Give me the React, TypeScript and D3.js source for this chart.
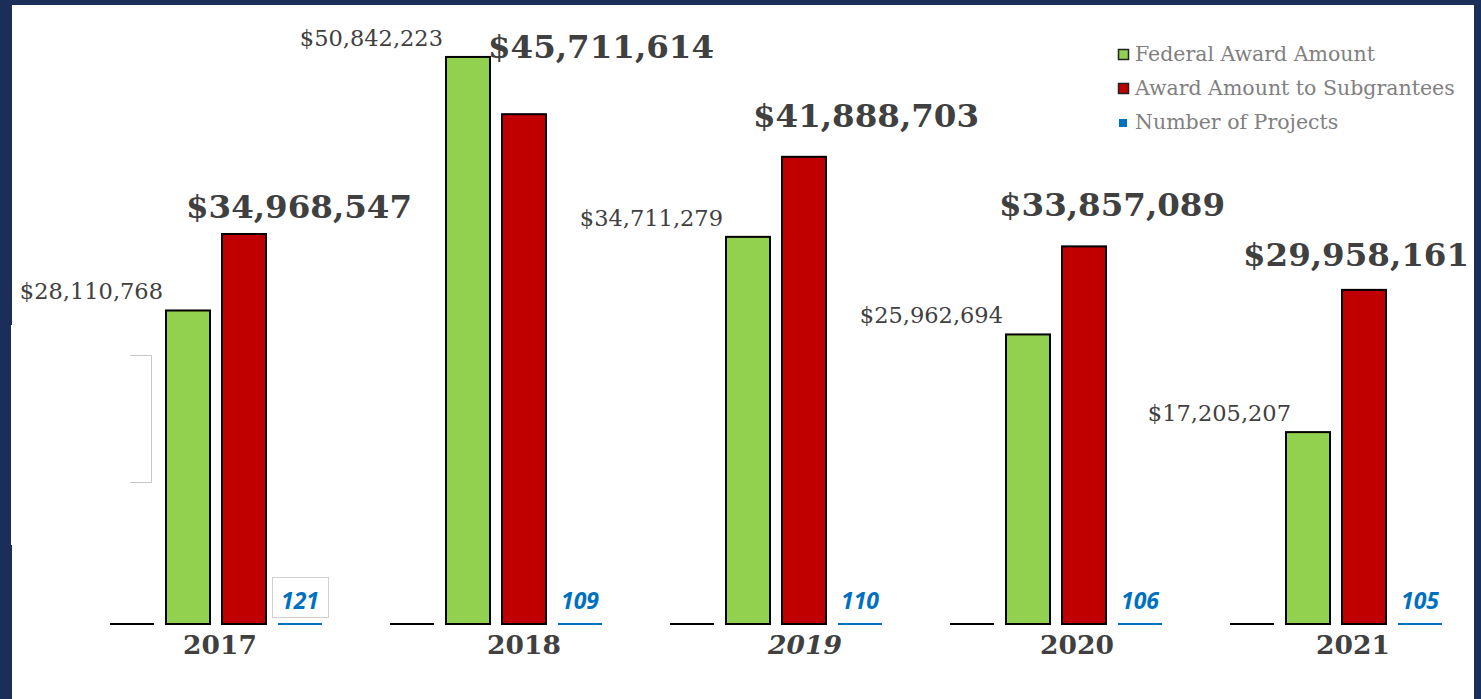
import React from "react";
import * as d3 from "d3";

const years = ["2017", "2018", "2019", "2020", "2021"];
const federal = [28110768, 50842223, 34711279, 25962694, 17205207];
const subgrantees = [34968547, 45711614, 41888703, 33857089, 29958161];
const projects = [121, 109, 110, 106, 105];
const legendLabels = ["Federal Award Amount", "Award Amount to Subgrantees", "Number of Projects"];

// annotation placement tweaks (layout, not data)
const fedDx = [0, 0, 0, 0, 8];
const subDx = [55, 77, 62, 28, -8];
const subDy = [-16, -56, -30, -30, -24];
const yearDx = [-2, 22, 23, 15, 11];

const W = 1481;
const H = 699;
const NAVY = "#1b2e5a";
const GREEN = "#92D050";
const RED = "#C00000";
const BLUE = "#0070C0";
const SERIF = "'DejaVu Serif', 'Liberation Serif', serif";

export default function App() {
  const x = d3.scaleBand<string>().domain(years).range([110, 1454]).paddingInner(0.2).paddingOuter(0);
  const inner = d3
    .scaleBand<string>()
    .domain(["base", "federal", "sub", "projects"])
    .range([0, x.bandwidth()]);
  const y = d3.scaleLinear().domain([0, 55.5e6]).range([624, 5]);
  const bw = 44;
  const fmt = (v: number) => "$" + d3.format(",")(v);

  return (
    <svg width={W} height={H} style={{ position: "absolute", left: 0, top: 0 }}>
      <rect x={0} y={0} width={W} height={H} fill={NAVY} />
      <rect x={12} y={5} width={1462} height={H - 5} fill="#fff" />
      <rect x={11} y={325} width={2} height={220} fill="#fff" />
      <path d="M130,355.5 H151.5 V482.5 H130" fill="none" stroke="#c8c8c8" strokeWidth={1} />

      {years.map((yr, i) => {
        const gx = x(yr)!;
        const bx = gx + inner("base")!;
        const fx = gx + inner("federal")!;
        const sx = gx + inner("sub")!;
        const px = gx + inner("projects")!;
        const fy = y(federal[i]);
        const sy = y(subgrantees[i]);
        const py = y(projects[i]);
        return (
          <g key={yr}>
            <line x1={bx} x2={bx + bw} y1={624} y2={624} stroke="#000" strokeWidth={2} />
            <rect x={fx} y={fy} width={bw} height={y(0) - fy} fill={GREEN} stroke="#000" strokeWidth={2} />
            <rect x={sx} y={sy} width={bw} height={y(0) - sy} fill={RED} stroke="#000" strokeWidth={2} />
            <rect x={px} y={Math.min(py, 623)} width={bw} height={Math.max(y(0) - py, 2)} fill={BLUE} />
            <text
              x={fx - 3 + fedDx[i]}
              y={fy - 11}
              textAnchor="end"
              fontFamily={SERIF}
              fontSize={22.5}
              fill="#404040"
            >
              {fmt(federal[i])}
            </text>
            <text
              x={sx + bw / 2 + subDx[i]}
              y={sy + subDy[i]}
              textAnchor="middle"
              fontFamily={SERIF}
              fontWeight="bold"
              fontSize={32.5}
              fill="#404040"
            >
              {fmt(subgrantees[i])}
            </text>
            {i === 0 && (
              <rect x={272.5} y={577.5} width={56} height={40} fill="none" stroke="#d0d0d0" strokeWidth={1} />
            )}
            <text
              x={px + bw / 2}
              y={609}
              textAnchor="middle"
              fontFamily="'Open Sans', 'DejaVu Sans', sans-serif"
              fontWeight="bold"
              fontStyle="italic"
              fontSize={23}
              fill={BLUE}
            >
              {projects[i]}
            </text>
            <text
              x={gx + x.bandwidth() / 2 + yearDx[i]}
              y={654}
              textAnchor="middle"
              fontFamily={SERIF}
              fontWeight="bold"
              fontStyle={yr === "2019" ? "italic" : "normal"}
              fontSize={26.5}
              fill="#404040"
            >
              {yr}
            </text>
          </g>
        );
      })}

      {legendLabels.map((lbl, i) => {
        const cy = 55 + i * 34;
        const color = [GREEN, RED, BLUE][i];
        return (
          <g key={lbl}>
            {i < 2 ? (
              <rect x={1118.5} y={cy - 5.5} width={10} height={10} fill={color} stroke="#222" strokeWidth={1.5} />
            ) : (
              <rect x={1119} y={cy - 4} width={8} height={8} fill={color} />
            )}
            <text x={1135} y={cy + 6} fontFamily={SERIF} fontSize={20.5} fill="#808080">
              {lbl}
            </text>
          </g>
        );
      })}
    </svg>
  );
}
